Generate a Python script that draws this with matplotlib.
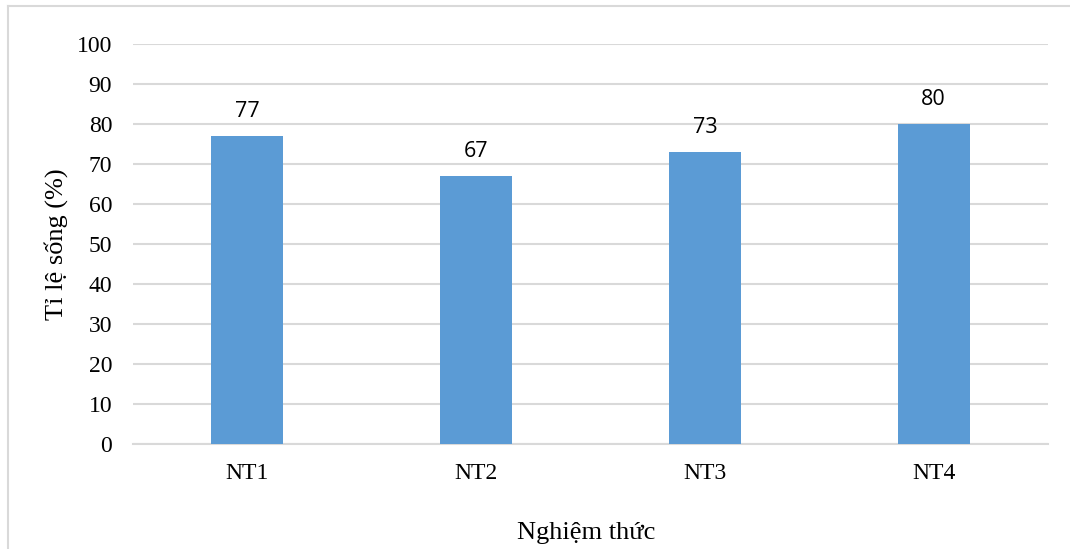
import matplotlib
matplotlib.use("Agg")
import matplotlib.pyplot as plt
from matplotlib.lines import Line2D

categories = ["NT1", "NT2", "NT3", "NT4"]
values = [77, 67, 73, 80]
yticks = [0, 10, 20, 30, 40, 50, 60, 70, 80, 90, 100]
ylabel = "Tỉ lệ sống (%)"
xlabel = "Nghiệm thức"

W, H = 1070, 549
fig = plt.figure(figsize=(W / 100, H / 100), dpi=100)
ax = fig.add_axes([133 / W, 1 - 444 / H, (1048 - 133) / W, 400 / H])

x = list(range(len(categories)))
bars = ax.bar(x, values, width=0.315, color="#5b9bd5", zorder=3)
ax.set_xlim(-0.5, len(categories) - 0.5)
ax.set_ylim(0, 100)
ax.set_yticks(yticks)
ax.set_xticks(x)
ax.set_xticklabels(categories)
ax.yaxis.grid(True, color="#d9d9d9", linewidth=1.5, zorder=0)
ax.set_axisbelow(True)
for s in ax.spines.values():
    s.set_visible(False)
ax.spines["bottom"].set_visible(True)
ax.spines["bottom"].set_color("#d9d9d9")
ax.spines["bottom"].set_linewidth(1.5)
ax.tick_params(axis="both", length=0, labelsize=17)
ax.tick_params(axis="y", pad=15)
ax.tick_params(axis="x", pad=14)
for lab in ax.get_xticklabels() + ax.get_yticklabels():
    lab.set_fontfamily("Liberation Serif")

for xi, v in zip(x, values):
    ax.annotate(str(v), (xi, v), xytext=(0, 13.5), textcoords="offset points",
                ha="center", va="baseline", fontsize=15.5, family="Open Sans",
                color="#000000")

fig.text(56 / W, 1 - 244 / H, ylabel, rotation=90, ha="center", va="center",
         fontsize=19, family="Liberation Serif")
fig.text(586 / W, 1 - 533 / H, xlabel, ha="center", va="center",
         fontsize=19, family="Liberation Serif")

# outer chart frame (left and top edges visible)
fig.add_artist(Line2D([8 / W, 8 / W], [0, 1 - 6 / H], transform=fig.transFigure,
                      color="#d9d9d9", linewidth=1.5))
fig.add_artist(Line2D([8 / W, 1], [1 - 6 / H, 1 - 6 / H], transform=fig.transFigure,
                      color="#d9d9d9", linewidth=1.5))

fig.savefig("out.png", dpi=100)
